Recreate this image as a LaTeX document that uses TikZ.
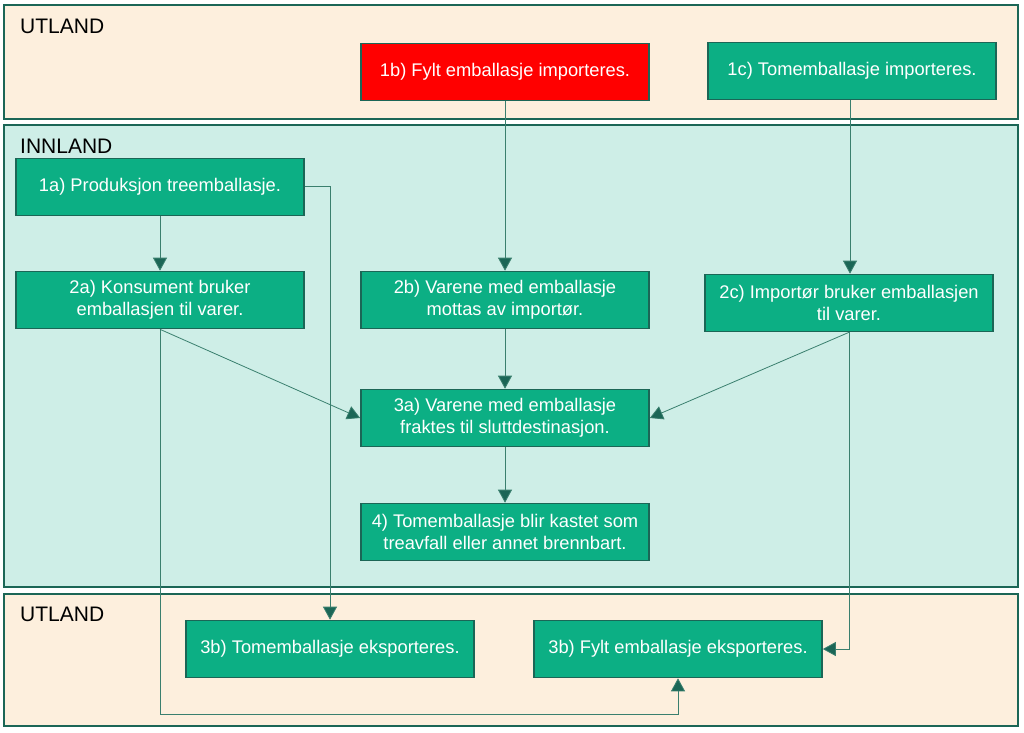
\documentclass[tikz,border=0pt]{standalone}
\usepackage{fontspec}
\setmainfont{Liberation Sans}
\usetikzlibrary{arrows.meta}
\definecolor{sand}{HTML}{FDEFDD}
\definecolor{mint}{HTML}{CEEEE7}
\definecolor{gronn}{HTML}{0CAF84}
\definecolor{kant}{HTML}{1B6656}
\definecolor{pil}{HTML}{3A7F6E}
\tikzset{
	sone/.style={draw=kant, line width=1.6pt},
	boks/.style={draw=kant, line width=1.6pt, fill=gronn, text=white, minimum width=288pt, minimum height=57pt, align=center, font=\fontsize{18.3}{22}\selectfont},
	tittel/.style={anchor=west, inner sep=0pt, font=\fontsize{21}{24}\selectfont},
	flyt/.style={draw=pil, line width=0.8pt, -{Triangle[length=13pt,width=14pt,fill=kant]}}
}
\begin{document}
\begin{tikzpicture}[x=1pt,y=-1pt]
			\useasboundingbox (0,0) rectangle (1024,732);
			\draw[sone, fill=sand] (4,5) rectangle (1018,119);
			\draw[sone, fill=mint] (4,125) rectangle (1018,587);
			\draw[sone, fill=sand] (4,594) rectangle (1018,726);
			\node[tittel] (utlandA) at (20,26) {UTLAND};
			\node[tittel] (innland) at (20,146) {INNLAND};
			\node[tittel] (utlandB) at (20,614) {UTLAND};
			\node[boks, fill=red] (b1) at (505,72) {1b) Fylt emballasje importeres.};
			\node[boks] (c1) at (852,71) {1c) Tomemballasje importeres.};
			\node[boks] (a1) at (160,187) {1a) Produksjon treemballasje.};
			\node[boks] (a2) at (160,300) {2a) Konsument bruker\\emballasjen til varer.};
			\node[boks] (b2) at (505,300) {2b) Varene med emballasje\\mottas av import\o r.};
			\node[boks] (c2) at (849,303) {2c) Import\o r bruker emballasjen\\til varer.};
			\node[boks] (a3) at (505,418) {3a) Varene med emballasje\\fraktes til sluttdestinasjon.};
			\node[boks] (f4) at (505,532) {4) Tomemballasje blir kastet som\\treavfall eller annet brennbart.};
			\node[boks] (tom) at (330,649) {3b) Tomemballasje eksporteres.};
			\node[boks] (fylt) at (678,649) {3b) Fylt emballasje eksporteres.};
			\draw[flyt] (b1) -- (b2);
			\draw[flyt] (c1.south -| 850,0) -- (c2.north -| 850,0);
			\draw[flyt] (a1) -- (a2);
			\draw[flyt] (a1.east |- 0,186) -| (tom.north);
			\draw[flyt] (a2.south) -- (a3.west);
			\draw[flyt] (a2.south) -- (160,714) -| (fylt.south);
			\draw[flyt] (b2) -- (a3);
			\draw[flyt] (c2.south) -- (a3.east);
			\draw[flyt] (c2.south) |- (fylt.east);
			\draw[flyt] (a3) -- (f4);
		\end{tikzpicture}
\end{document}
